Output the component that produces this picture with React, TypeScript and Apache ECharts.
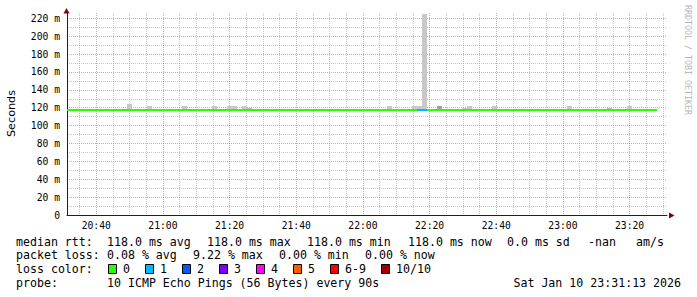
import React, { useEffect, useRef } from "react";
import * as echarts from "echarts";

// ---- time window (seconds of the day) ----
const START = 20 * 3600 + 31 * 60 + 13; // 20:31:13
const END = 23 * 3600 + 31 * 60 + 13; // 23:31:13
const STEP = 90; // one probe every 90 s

// ---- median rtt per probe (ms) ----
const medianRtt = [
  118.0, 118.0, 118.0, 118.0, 118.0, 118.0, 118.0, 118.0, 118.0, 118.0,
  118.0, 118.0, 118.0, 118.0, 118.0, 118.0, 118.0, 118.0, 118.0, 118.0,
  118.0, 118.0, 118.0, 118.0, 118.0, 118.0, 118.0, 118.0, 118.0, 118.0,
  118.0, 118.0, 118.0, 118.0, 118.0, 118.0, 118.0, 118.0, 118.0, 118.0,
  118.0, 118.0, 118.0, 118.0, 118.0, 118.0, 118.0, 118.0, 118.0, 118.0,
  118.0, 118.0, 118.0, 118.0, 118.0, 118.0, 118.0, 118.0, 118.0, 118.0,
  118.0, 118.0, 118.0, 118.0, 118.0, 118.0, 118.0, 118.0, 118.0, 118.0,
  118.0, 118.0, 118.0, 118.0, 118.0, 118.0, 118.0, 118.0, 118.0, 118.0,
  118.0, 118.0, 118.0, 118.0, 118.0, 118.0, 118.0, 118.0, 118.0, 118.0,
  118.0, 118.0, 118.0, 118.0, 118.0, 118.0, 118.0, 118.0, 118.0, 118.0,
  118.0, 118.0, 118.0, 118.0, 118.0, 118.0, 118.0, 118.0, 118.0, 118.0,
  118.0, 118.0, 118.0, 118.0, 118.0, 118.0, 118.0, 118.0,
];

// probes with packet loss (index of probe, lost pings out of 10)
const lossSamples = [70, 71];
const lossCounts = [1, 1];

// smoke: probes whose slowest ping rose above the median
const smokeSamples = [12, 16, 23, 29, 32, 33, 35, 36, 64, 69, 70, 71, 74, 79, 80, 85, 100, 108, 112];
const smokeTop = [124.7, 121.4, 121.4, 122.5, 122.5, 122.5, 121.4, 120.2, 122.5, 121.4, 121.4, 224.4, 121.4, 120.2, 122.5, 121.4, 122.5, 120.2, 121.4];
const smokeShade = [0, 0, 0, 0, 0, 0, 0, 1, 0, 0, 0, 0, 2, 0, 0, 0, 0, 1, 0];
const shadeColors = ["#c8c8c8", "#b8b8b8", "#a2a2a2"];

// y axis
const Y_MAX = 226;
const yMajor = [0, 20, 40, 60, 80, 100, 120, 140, 160, 180, 200, 220];
const yMinor = [10, 30, 50, 70, 90, 110, 130, 150, 170, 190, 210];

// legend
const lossLabels = ["0", "1", "2", "3", "4", "5", "6-9", "10/10"];
const lossColors = ["#26ff00", "#00b8ff", "#0059ff", "#7e00ff", "#ff00ff", "#ff5e00", "#ff0000", "#a10000"];
const rttStats = ["118.0 ms avg", "118.0 ms max", "118.0 ms min", "118.0 ms now", "0.0 ms sd", "-nan", "am/s"];
const lossStats = ["0.08 % avg", "9.22 % max", "0.00 % min", "0.00 % now"];
const probeText = "10 ICMP Echo Pings (56 Bytes) every 90s";
const dateText = "Sat Jan 10 23:31:13 2026";

// layout (pixels)
const rttX = [107, 207, 307, 408, 507, 588, 636];
const lossX = [107, 193, 279, 365];
const boxX = [108, 145, 182, 219, 256, 293, 330, 381];
const rowY = [241.5, 255.3, 269, 282.7];

const MONO = '"DejaVu Sans Mono"';

function pad(n: number) {
  return n < 10 ? "0" + n : "" + n;
}
function hhmm(v: number) {
  const h = Math.floor(v / 3600);
  const m = Math.floor((v % 3600) / 60);
  return pad(h) + ":" + pad(m);
}

function ticksEvery(step: number, skip?: number) {
  const out: number[] = [];
  for (let t = Math.ceil(START / step) * step; t < END; t += step) {
    if (skip && t % skip === 0) continue;
    out.push(t);
  }
  return out;
}

export default function App() {
  const ref = useRef<HTMLDivElement>(null);

  useEffect(() => {
    document.body.style.margin = "0";
    const chart = echarts.init(ref.current!, null, { renderer: "svg" });

    const xMajor = ticksEvery(1200);
    const xMinor = ticksEvery(300, 1200);

    const lossOf = (i: number) => {
      const k = lossSamples.indexOf(i);
      return k >= 0 ? lossCounts[k] : 0;
    };
    const lossColorOf = (n: number) => {
      if (n <= 5) return lossColors[n];
      if (n < 10) return lossColors[6];
      return lossColors[7];
    };

    const lineData = medianRtt.map((v, i) => [START + i * STEP, START + (i + 1) * STEP, v, lossOf(i)]);
    const smokeData = smokeSamples.map((s, k) => [
      START + s * STEP,
      START + (s + 1) * STEP,
      medianRtt[s],
      smokeTop[k],
      smokeShade[k],
    ]);

    const gridMajorColor = "rgba(232,0,0,0.4)";
    const gridMinorColor = "rgba(143,143,143,0.5)";

    const graphics: any[] = [];
    // axis title
    graphics.push({
      type: "text",
      x: 11,
      y: 113.5,
      rotation: Math.PI / 2,
      style: { text: "Seconds", fontFamily: '"DejaVu Sans"', fontSize: 11.2, fill: "#000", align: "center", verticalAlign: "middle" },
    });
    // watermark
    graphics.push({
      type: "text",
      x: 688,
      y: 60,
      rotation: -Math.PI / 2,
      style: { text: "RRDTOOL / TOBI OETIKER", fontFamily: MONO, fontSize: 8.3, fill: "#b8b8b8", align: "center", verticalAlign: "middle" },
    });
    // arrows
    graphics.push({
      type: "polygon",
      shape: { points: [[66.5, 8], [63.5, 13.5], [69.5, 13.5]] },
      style: { fill: "#7f0000" },
    });
    graphics.push({
      type: "polygon",
      shape: { points: [[674.5, 215.5], [669, 212.5], [669, 218.5]] },
      style: { fill: "#7f0000" },
    });

    const txt = (text: string, x: number, y: number, align = "left") => ({
      type: "text",
      x,
      y,
      style: { text, fontFamily: MONO, fontSize: 11.6, fill: "#000", align, verticalAlign: "middle" },
    });

    graphics.push(txt("median rtt:", 16, rowY[0]));
    rttStats.forEach((s, k) => graphics.push(txt(s, rttX[k], rowY[0])));
    graphics.push(txt("packet loss:", 16, rowY[1]));
    lossStats.forEach((s, k) => graphics.push(txt(s, lossX[k], rowY[1])));
    graphics.push(txt("loss color:", 16, rowY[2]));
    lossLabels.forEach((s, k) => {
      graphics.push({
        type: "rect",
        shape: { x: boxX[k] + 0.5, y: rowY[2] - 4.5, width: 8, height: 9 },
        style: { fill: lossColors[k], stroke: "#000", lineWidth: 1 },
      });
      graphics.push(txt(s, boxX[k] + 15, rowY[2]));
    });
    graphics.push(txt("probe:", 16, rowY[3]));
    graphics.push(txt(probeText, 107, rowY[3]));
    graphics.push(txt(dateText, 681, rowY[3], "right"));

    const xBase = {
      type: "value",
      min: START,
      max: END,
      position: "bottom",
    };
    const yBase = {
      type: "value",
      min: 0,
      max: Y_MAX,
      position: "left",
    };

    chart.setOption({
      animation: false,
      backgroundColor: "#ffffff",
      grid: { left: 67, top: 13, width: 600, height: 202, containLabel: false },
      xAxis: [
        {
          ...xBase,
          axisLine: { show: false },
          axisTick: { show: false, customValues: xMinor },
          axisLabel: { show: false, customValues: xMinor },
          splitLine: { show: true, lineStyle: { color: gridMinorColor, width: 1, type: [1, 1] } },
        },
        {
          ...xBase,
          axisLine: { show: true, onZero: false, lineStyle: { color: "#1f1f1f", width: 1 } },
          axisTick: { show: false, customValues: xMajor },
          axisLabel: {
            show: true,
            customValues: xMajor,
            formatter: (v: number) => hhmm(v),
            fontFamily: MONO,
            fontSize: 9.7,
            color: "#000",
            margin: 5,
          },
          splitLine: { show: true, lineStyle: { color: gridMajorColor, width: 1, type: [1, 1] } },
        },
      ],
      yAxis: [
        {
          ...yBase,
          axisLine: { show: false },
          axisTick: { show: false, customValues: yMinor },
          axisLabel: { show: false, customValues: yMinor },
          splitLine: { show: true, lineStyle: { color: gridMinorColor, width: 1, type: [1, 1] } },
        },
        {
          ...yBase,
          axisLine: { show: true, onZero: false, lineStyle: { color: "#1f1f1f", width: 1 } },
          axisTick: { show: false, customValues: yMajor },
          axisLabel: {
            show: true,
            customValues: yMajor,
            formatter: (v: number) => (v === 0 ? "0" : v + " m"),
            fontFamily: MONO,
            fontSize: 9.7,
            color: "#000",
            margin: 7,
          },
          splitLine: { show: true, lineStyle: { color: gridMajorColor, width: 1, type: [1, 1] } },
        },
      ],
      series: [
        {
          type: "custom",
          name: "smoke",
          xAxisIndex: 1,
          yAxisIndex: 1,
          data: smokeData,
          encode: { x: [0, 1], y: [2, 3] },
          renderItem: (params: any, api: any) => {
            const p0 = api.coord([api.value(0), api.value(2)]);
            const p1 = api.coord([api.value(1), api.value(3)]);
            const x0 = Math.round(p0[0]);
            const x1 = Math.round(p1[0]);
            const yb = Math.round(p0[1]);
            const yt = Math.round(p1[1]);
            return {
              type: "rect",
              shape: { x: x0, y: yt, width: x1 - x0, height: yb - yt },
              style: { fill: shadeColors[api.value(4)] },
            };
          },
          z: 2,
        },
        {
          type: "custom",
          name: "median rtt",
          xAxisIndex: 1,
          yAxisIndex: 1,
          data: lineData,
          encode: { x: [0, 1], y: 2 },
          renderItem: (params: any, api: any) => {
            const p0 = api.coord([api.value(0), api.value(2)]);
            const p1 = api.coord([api.value(1), api.value(2)]);
            const y = Math.round(p0[1]);
            return {
              type: "line",
              shape: { x1: Math.round(p0[0]), y1: y, x2: Math.round(p1[0]), y2: y },
              style: { stroke: lossColorOf(api.value(3)), lineWidth: 2, lineCap: "butt" },
            };
          },
          z: 3,
        },
      ],
      graphic: graphics,
    });

    return () => chart.dispose();
  }, []);

  return <div ref={ref} style={{ position: "absolute", left: 0, top: 0, width: 697, height: 297 }} />;
}
